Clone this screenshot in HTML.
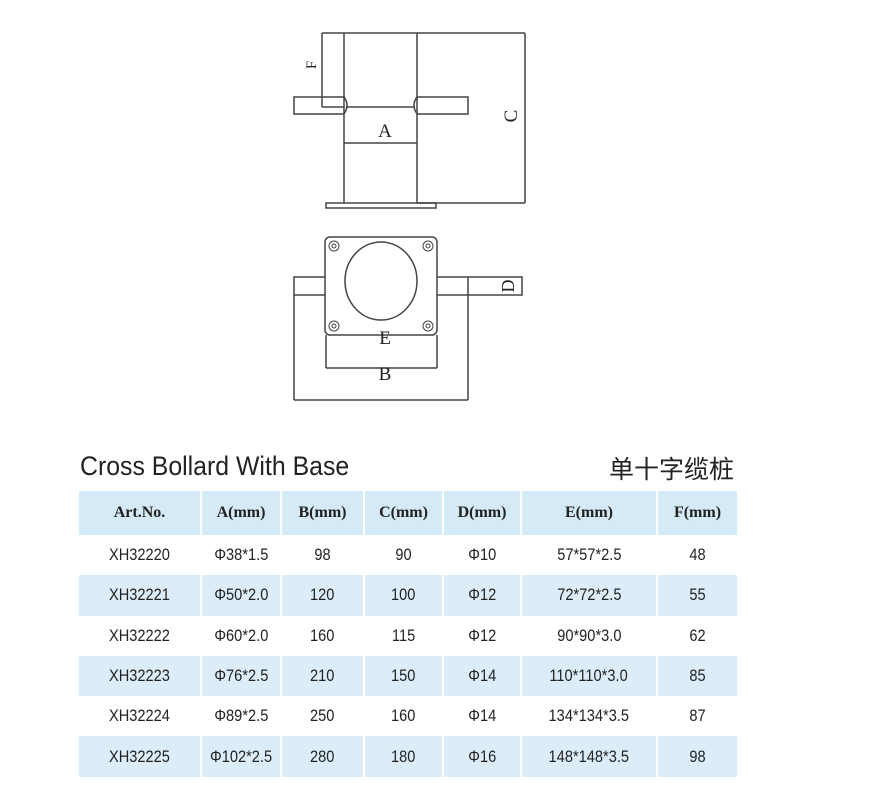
<!DOCTYPE html>
<html><head><meta charset="utf-8"><style>
body{margin:0;background:#fff;width:890px;height:789px;position:relative;overflow:hidden;font-family:"Liberation Sans",sans-serif}
.t{position:absolute;white-space:nowrap}
table{position:absolute;left:79px;top:491px;border-collapse:collapse;width:658px;table-layout:fixed}
td{text-align:center;padding:0;color:#222;border-left:2px solid #fff;height:40.3px}
td:first-child{border-left:none}
td span{display:inline-block;font-size:17px;transform:scaleX(0.86)}
tr.h td{height:44px;background:#d5eaf7;font-family:"Liberation Serif",serif;font-weight:bold;font-size:16px;color:#222}
tr.b td{background:#dcedf9}
</style></head><body>
<svg width="890" height="440" style="position:absolute;left:0;top:0" fill="none" stroke="#444" stroke-width="1.5">
<line x1="322" y1="33" x2="525" y2="33"/>
<line x1="322" y1="33" x2="322" y2="107"/>
<line x1="322" y1="107" x2="344" y2="107"/>
<line x1="344" y1="33" x2="344" y2="203"/>
<line x1="417" y1="33" x2="417" y2="203"/>
<path d="M344 97 H294 V114 H344 M417 97 H468 V114 H417"/>
<path d="M344 97 Q350 105 344 114 M417 97 Q411 105 417 114"/>
<line x1="346" y1="107" x2="415" y2="107"/>
<line x1="344" y1="143" x2="417" y2="143"/>
<rect x="326" y="203" width="110" height="5"/>
<line x1="525" y1="33" x2="525" y2="203"/>
<line x1="417" y1="203" x2="525" y2="203"/>
<rect x="325" y="237" width="112" height="98" rx="5"/>
<path d="M325 277 H294 V295 H325 M437 277 H522 V295 H437"/>
<line x1="468" y1="277" x2="468" y2="400"/>
<line x1="294" y1="295" x2="294" y2="400"/>
<line x1="294" y1="400" x2="468" y2="400"/>
<line x1="326" y1="335" x2="326" y2="368"/>
<line x1="437" y1="335" x2="437" y2="368"/>
<line x1="326" y1="368" x2="437" y2="368"/>
<ellipse cx="381" cy="281" rx="36" ry="39" fill="#fff"/>
<g stroke-width="1">
<circle cx="334" cy="246" r="5"/><circle cx="334" cy="246" r="2"/>
<circle cx="428" cy="246" r="5"/><circle cx="428" cy="246" r="2"/>
<circle cx="334" cy="326" r="5"/><circle cx="334" cy="326" r="2"/>
<circle cx="428" cy="326" r="5"/><circle cx="428" cy="326" r="2"/>
</g>
<g fill="#222" stroke="none" font-family="Liberation Serif,serif" font-size="19">
<text x="385" y="137" text-anchor="middle">A</text>
<text x="385" y="344" text-anchor="middle">E</text>
<text x="385" y="380" text-anchor="middle">B</text>
<text transform="translate(517,116) rotate(-90)" text-anchor="middle">C</text>
<text transform="translate(514,286) rotate(-90)" text-anchor="middle" font-size="18">D</text>
<text transform="translate(316,65) rotate(-90)" text-anchor="middle" font-size="15">F</text>
</g>
</svg>
<div class="t" style="left:80px;top:451px;font-size:27px;color:#222;transform:scaleX(0.92);transform-origin:left">Cross Bollard With Base</div>
<div class="t" style="left:609px;top:450px;font-size:25px;color:#222;font-family:'Liberation Sans','Noto Sans CJK SC',sans-serif">单十字缆桩</div>
<table>
<colgroup><col style="width:122px"><col style="width:80px"><col style="width:83px"><col style="width:79px"><col style="width:78px"><col style="width:136px"><col style="width:80px"></colgroup>
<tr class="h"><td>Art.No.</td><td>A(mm)</td><td>B(mm)</td><td>C(mm)</td><td>D(mm)</td><td>E(mm)</td><td>F(mm)</td></tr>
<tr><td><span>XH32220</span></td><td><span>Φ38*1.5</span></td><td><span>98</span></td><td><span>90</span></td><td><span>Φ10</span></td><td><span>57*57*2.5</span></td><td><span>48</span></td></tr>
<tr class="b"><td><span>XH32221</span></td><td><span>Φ50*2.0</span></td><td><span>120</span></td><td><span>100</span></td><td><span>Φ12</span></td><td><span>72*72*2.5</span></td><td><span>55</span></td></tr>
<tr><td><span>XH32222</span></td><td><span>Φ60*2.0</span></td><td><span>160</span></td><td><span>115</span></td><td><span>Φ12</span></td><td><span>90*90*3.0</span></td><td><span>62</span></td></tr>
<tr class="b"><td><span>XH32223</span></td><td><span>Φ76*2.5</span></td><td><span>210</span></td><td><span>150</span></td><td><span>Φ14</span></td><td><span>110*110*3.0</span></td><td><span>85</span></td></tr>
<tr><td><span>XH32224</span></td><td><span>Φ89*2.5</span></td><td><span>250</span></td><td><span>160</span></td><td><span>Φ14</span></td><td><span>134*134*3.5</span></td><td><span>87</span></td></tr>
<tr class="b"><td><span>XH32225</span></td><td><span>Φ102*2.5</span></td><td><span>280</span></td><td><span>180</span></td><td><span>Φ16</span></td><td><span>148*148*3.5</span></td><td><span>98</span></td></tr>
</table>
</body></html>
